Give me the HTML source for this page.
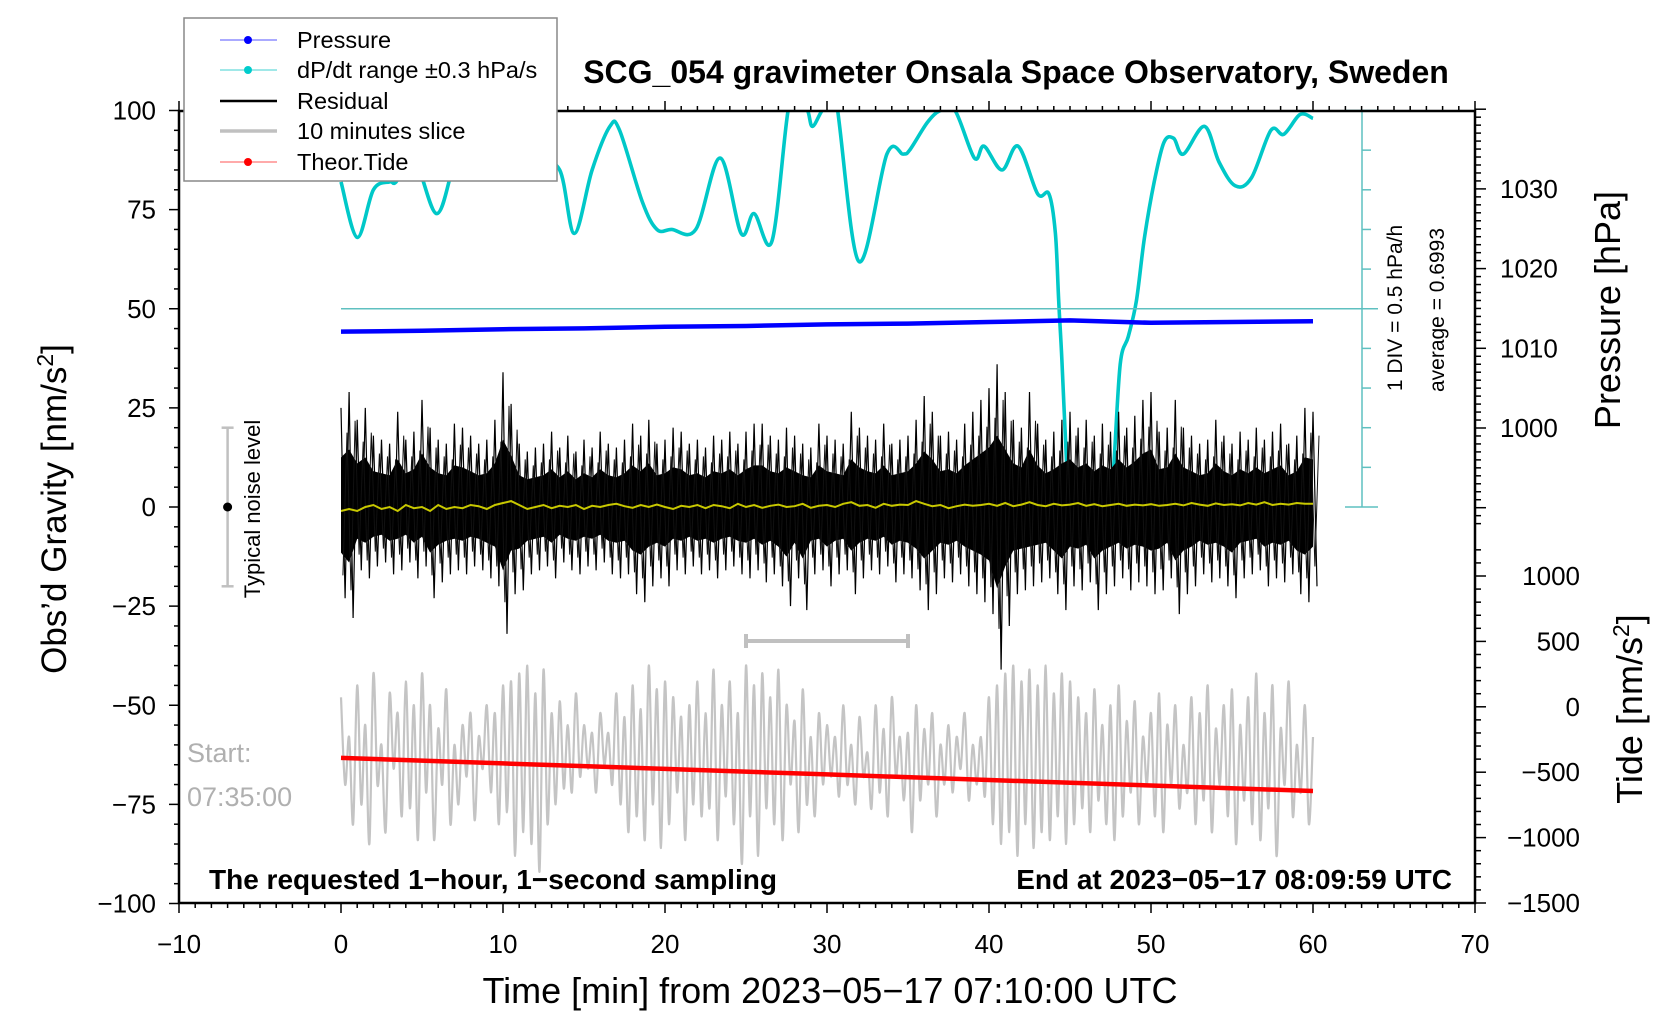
<!DOCTYPE html>
<html><head><meta charset="utf-8"><style>
html,body{margin:0;padding:0;background:#fff;}
svg{display:block;font-family:"Liberation Sans",Arial,sans-serif;}
</style></head><body>
<svg id="chart" width="1676" height="1020" viewBox="0 0 1676 1020" xmlns="http://www.w3.org/2000/svg">
<defs>
<clipPath id="plotclip"><rect x="179" y="111" width="1296" height="792"/></clipPath>
<clipPath id="cyanclip"><rect x="179" y="111" width="1296" height="396"/></clipPath>
</defs>
<g id="marks"></g>
<g id="axes"></g>
<text x="1016" y="83" text-anchor="middle" font-size="32" font-weight="bold">SCG_054 gravimeter Onsala Space Observatory, Sweden</text>
<text transform="translate(66,509) rotate(-90)" text-anchor="middle" font-size="35">Obs’d Gravity [nm/s<tspan font-size="23" dy="-13">2</tspan><tspan dy="13">]</tspan></text>
<text x="830" y="1003" text-anchor="middle" font-size="36">Time [min] from 2023−05−17 07:10:00 UTC</text>
<text transform="translate(1620,310) rotate(-90)" text-anchor="middle" font-size="36">Pressure [hPa]</text>
<text transform="translate(1642,709) rotate(-90)" text-anchor="middle" font-size="36">Tide [nm/s<tspan font-size="23" dy="-13">2</tspan><tspan dy="13">]</tspan></text>
<text transform="translate(1402,308) rotate(-90)" text-anchor="middle" font-size="21">1 DIV = 0.5 hPa/h</text>
<text transform="translate(1444,310) rotate(-90)" text-anchor="middle" font-size="21">average = 0.6993</text>
<text transform="translate(260,509) rotate(-90)" text-anchor="middle" font-size="22">Typical noise level</text>
<text x="187" y="762" font-size="27" fill="#b0b0b0">Start:</text>
<text x="187" y="806" font-size="27" fill="#b0b0b0">07:35:00</text>
<text x="209" y="889" font-size="28" font-weight="bold">The requested 1−hour, 1−second sampling</text>
<text x="1452" y="889" text-anchor="end" font-size="28" font-weight="bold">End at 2023−05−17 08:09:59 UTC</text>
<g>
<rect x="184" y="18" width="373" height="163" fill="#fff" stroke="#888" stroke-width="1.5"/>
<g><line x1="220" y1="40" x2="277" y2="40" stroke="#5555ff" stroke-width="1"/><circle cx="248" cy="40" r="4" fill="#0000ff"/><text x="297" y="48" font-size="23.5">Pressure</text></g>
<g><line x1="220" y1="70" x2="277" y2="70" stroke="#40d0d0" stroke-width="1"/><circle cx="248" cy="70" r="4" fill="#00cccc"/><text x="297" y="78" font-size="23.5">dP/dt range ±0.3 hPa/s</text></g>
<g><line x1="220" y1="101" x2="277" y2="101" stroke="#000" stroke-width="2.5"/><text x="297" y="109" font-size="23.5">Residual</text></g>
<g><line x1="220" y1="131" x2="277" y2="131" stroke="#c0c0c0" stroke-width="3.5"/><text x="297" y="139" font-size="23.5">10 minutes slice</text></g>
<g><line x1="220" y1="162" x2="277" y2="162" stroke="#ff5555" stroke-width="1"/><circle cx="248" cy="162" r="4" fill="#ff0000"/><text x="297" y="170" font-size="23.5">Theor.Tide</text></g>
</g>
</svg>
<script>
const resHi=[25,29,22,25,18,17,16,24,17,19, 27,20,17,16,21,20,18,16,17,22, 34,26,16,14,15,16,19,15,18,14, 17,15,19,16,15,17,21,18,22,16, 17,20,19,16,17,15,18,17,19,16, 19,21,21,18,17,20,18,16,15,21, 18,17,16,24,20,18,17,21,16,17, 18,22,28,24,18,19,17,21,24,27, 30,36,29,22,20,29,21,17,19,22, 24,20,22,18,21,19,24,20,23,27, 29,19,20,27,20,18,16,17,22,18, 16,19,17,20,17,19,21,16,18,25, 24];
const resLo=[-23,-28,-16,-18,-15,-14,-17,-16,-14,-18, -15,-23,-19,-17,-16,-17,-15,-16,-18,-20, -32,-22,-21,-17,-16,-15,-18,-14,-16,-17, -15,-16,-14,-17,-18,-17,-22,-24,-20,-18, -20,-16,-17,-15,-17,-16,-18,-16,-15,-17, -18,-16,-19,-17,-20,-25,-18,-26,-17,-16, -20,-17,-16,-22,-18,-16,-17,-15,-19,-17, -18,-21,-26,-22,-18,-19,-17,-20,-22,-24, -27,-41,-30,-22,-21,-20,-19,-18,-22,-26, -20,-21,-19,-26,-22,-20,-18,-21,-19,-20, -22,-21,-18,-27,-22,-20,-17,-19,-18,-20, -23,-18,-17,-16,-20,-18,-19,-17,-22,-24, -20];
const smooth=[-1,-0.5,-1,0,0.5,-0.5,0,-1,0.5,-0.3, 0,-1,0.5,-0.5,0,-0.3,0.5,0.2,-0.5,0.5, 1,1.5,0.5,-0.5,0,0.5,-0.3,0.3,0,0.5, -0.5,0.3,0,0.5,0.8,0.2,-0.2,0.5,0,0.6, 0,-0.5,0.3,0,0.5,-0.3,0.5,0.2,-0.3,0.8, 0,0.5,-0.2,0.3,0.6,0,0.2,0.8,-0.2,0.3, 0.5,0,0.8,1.2,0.3,0.5,-0.2,0.8,0.3,0.6, 0.5,1.5,0.8,0.2,0.5,-0.3,0.2,0.6,0.3,0.5, 0.8,0.3,1.0,0.2,0.6,1.2,0.5,0.2,0.8,0.4, 0.6,1.0,0.3,0.7,0.2,0.5,0.8,0.3,0.6,0.4, 0.7,0.3,0.5,0.8,0.4,1.0,0.6,0.3,0.9,0.5, 0.7,0.4,1.0,0.6,1.2,0.5,0.8,0.6,1.0,0.8, 0.8];
const slice=[-48,-70,-58,-80,-45,-75,-55,-85,-42,-70, -60,-82,-47,-66,-52,-78,-44,-76,-50,-84, -42,-72,-50,-84,-56,-70,-46,-80,-60,-75, -55,-68,-52,-79,-58,-66,-50,-72,-52,-80, -45,-77,-44,-88,-42,-82,-40,-85,-47,-92, -41,-80,-52,-75,-49,-71,-55,-72,-47,-68, -55,-66,-57,-72,-52,-65,-57,-70,-47,-75, -53,-82,-45,-78,-51,-84,-40,-75,-46,-86, -44,-80,-48,-72,-53,-84,-50,-75,-44,-78, -52,-76,-41,-84,-50,-73,-44,-80,-52,-90, -40,-78,-45,-88,-42,-76,-48,-80,-41,-84, -50,-70,-54,-82,-46,-75,-58,-78,-52,-70, -55,-68,-58,-73,-50,-70,-60,-75,-53,-68, -62,-76,-50,-72,-56,-78,-48,-68,-58,-74, -57,-82,-50,-74,-56,-70,-52,-78,-60,-70, -55,-72,-58,-66,-52,-74,-60,-70,-58,-73, -48,-80,-45,-85,-42,-82,-40,-88,-44,-80, -41,-86,-45,-82,-40,-84,-47,-78,-42,-85, -44,-80,-48,-76,-52,-82,-46,-74,-55,-80, -50,-84,-45,-78,-54,-72,-49,-80,-58,-70, -52,-78,-47,-82,-55,-70,-50,-76,-60,-72, -48,-80,-52,-74,-45,-82,-56,-70,-50,-78, -46,-85,-55,-74,-48,-80,-42,-84,-52,-76, -45,-88,-56,-70,-44,-78,-60,-72,-50,-80, -58];
const dpdtTime=[0,1,2,3,3.4,4.5,5.9,7,8,9,10,11,12,13.5,14.4,15.5,16.6,17.2,18.6,19.5,20.4,21.9,23.4,24.7,25.5,26.6,27.6,28.2,28.8,29.1,29.7,30.5,31.95,33.7,34.7,35.1,36.2,37,37.9,39.1,39.7,40.8,41.8,43,43.7,44.1,44.3,44.5,44.8,45,47.5,47.7,48.1,48.6,49.1,49.6,50.2,50.8,51.4,52,53.3,54.2,55.2,56.2,57.4,58.2,59.2,60];
const dpdtValue=[82,68,80,82,82,88,74,87,98,100,95,92,88,85,69,85,96,95,77,70,70,70,88,69,74,67,100,104,100,96,100,104,62,89,89,90,97,100,100,88,91,85,91,79,79,69,52,37,10,0,0,10,36,43,52,68,82,92,93,89,96,87,81,83,95,94,99,98];
const pressureTime=[0,5,10,15,20,25,30,35,40,45,50,55,60];
const pressureValue=[1012.1,1012.2,1012.4,1012.5,1012.7,1012.8,1013.0,1013.1,1013.3,1013.5,1013.2,1013.3,1013.4];
const tideTime=[0,10,20,30,40,50,60];
const tideValue=[-391,-433,-475,-517,-560,-602,-644];
const dpdtAverage=50;
const xTicks=[-10,0,10,20,30,40,50,60,70];
const yTicks=[-100,-75,-50,-25,0,25,50,75,100];
const pTicks=[1000,1010,1020,1030];
const tTicks=[-1500,-1000,-500,0,500,1000];

const X=t=>341+t*16.2;
const Y=g=>507-g*3.965;
const P=p=>428-(p-1000)*7.97;
const T=v=>903-(v+1500)*0.1308;
const NS='http://www.w3.org/2000/svg';
const marks=document.getElementById('marks');
const axes=document.getElementById('axes');
function mk(tag,attrs,parent){const e=document.createElementNS(NS,tag);for(const k in attrs)e.setAttribute(k,attrs[k]);(parent||marks).appendChild(e);return e;}
function spline(p){let d='M'+p[0][0].toFixed(1)+','+p[0][1].toFixed(1);
 for(let i=0;i<p.length-1;i++){const p0=p[i-1]||p[i],p1=p[i],p2=p[i+1],p3=p[i+2]||p2;
  const c1=[p1[0]+(p2[0]-p0[0])/6,p1[1]+(p2[1]-p0[1])/6],c2=[p2[0]-(p3[0]-p1[0])/6,p2[1]-(p3[1]-p1[1])/6];
  d+=' C'+c1[0].toFixed(1)+','+c1[1].toFixed(1)+' '+c2[0].toFixed(1)+','+c2[1].toFixed(1)+' '+p2[0].toFixed(1)+','+p2[1].toFixed(1);}
 return d;}

// dP/dt cyan (drawn beneath residual)
const gc=mk('g',{'clip-path':'url(#cyanclip)'});
const cl=mk('path',{d:spline(dpdtTime.map((t,i)=>[X(t),Y(dpdtValue[i])])),fill:'none',stroke:'#00c8c8','stroke-width':3.6,'stroke-linejoin':'round'},gc);



const gs=mk('g',{'clip-path':'url(#plotclip)'});
// slice (gray)
const slp=mk('path',{d:spline(slice.map((v,i)=>[X(i*0.25),Y(v)])),fill:'none',stroke:'#c4c4c4','stroke-width':2.2},gs);



// tide
let pts=tideTime.map((t,i)=>X(t).toFixed(1)+','+T(tideValue[i]).toFixed(1)).join(' ');
const tl=mk('polyline',{points:pts,fill:'none',stroke:'#ff0000','stroke-width':4.5},gs);



// residual core band
const core=[];
resHi.forEach((v,i)=>core.push(X(i*0.5).toFixed(1)+','+Y(v*0.5).toFixed(1)));
for(let i=resLo.length-1;i>=0;i--)core.push(X(i*0.5).toFixed(1)+','+Y(resLo[i]*0.5).toFixed(1));
const band=mk('polygon',{points:core.join(' '),fill:'#000'},gs);


const zz=[];
resHi.forEach((v,i)=>{zz.push(X(i*0.5).toFixed(1)+','+Y(v).toFixed(1));zz.push(X(i*0.5+0.25).toFixed(1)+','+Y(resLo[i]).toFixed(1));});
const rl=mk('polyline',{points:zz.join(' '),fill:'none',stroke:'#000','stroke-width':1.2},gs);


const zz2=[];
resLo.forEach((v,i)=>{zz2.push(X(i*0.5+0.12).toFixed(1)+','+Y(v*0.75).toFixed(1));zz2.push(X(i*0.5+0.37).toFixed(1)+','+Y(resHi[i]*0.75).toFixed(1));});
const rl2=mk('polyline',{points:zz2.join(' '),fill:'none',stroke:'#111','stroke-width':1},gs);


pts=smooth.map((v,i)=>X(i*0.5).toFixed(1)+','+Y(v).toFixed(1)).join(' ');
const yl=mk('polyline',{points:pts,fill:'none',stroke:'#c8c800','stroke-width':2},gs);



// average line and dpdt axis
const av=mk('line',{x1:X(0),x2:1378,y1:Y(dpdtAverage),y2:Y(dpdtAverage),stroke:'#5fc0c0','stroke-width':1.5});


const da=mk('g',{stroke:'#5fc0c0','stroke-width':1.5});


mk('line',{x1:1362,x2:1362,y1:Y(0),y2:Y(100)},da);
mk('line',{x1:1345,x2:1378,y1:Y(0),y2:Y(0)},da);
mk('line',{x1:1345,x2:1378,y1:Y(100),y2:Y(100)},da);
for(let g=10;g<100;g+=10)mk('line',{x1:1362,x2:1371,y1:Y(g),y2:Y(g)},da);

// pressure
pts=pressureTime.map((t,i)=>X(t).toFixed(1)+','+P(pressureValue[i]).toFixed(1)).join(' ');
const pl=mk('polyline',{points:pts,fill:'none',stroke:'#0000ff','stroke-width':4.5},gs);



// noise indicator
const ni=mk('g',{stroke:'#c0c0c0','stroke-width':2.5});


mk('line',{x1:X(-7),x2:X(-7),y1:Y(20),y2:Y(-20)},ni);
mk('line',{x1:X(-7)-6,x2:X(-7)+6,y1:Y(20),y2:Y(20)},ni);
mk('line',{x1:X(-7)-6,x2:X(-7)+6,y1:Y(-20),y2:Y(-20)},ni);
mk('circle',{cx:X(-7),cy:Y(0),r:4.5,fill:'#000',stroke:'none'},ni);
const sb=mk('g',{stroke:'#c0c0c0','stroke-width':4});


mk('line',{x1:X(25),x2:X(35),y1:Y(-33.8),y2:Y(-33.8)},sb);
mk('line',{x1:X(25),x2:X(25),y1:Y(-33.8)-7,y2:Y(-33.8)+7},sb);
mk('line',{x1:X(35),x2:X(35),y1:Y(-33.8)-7,y2:Y(-33.8)+7},sb);

// axes
const frame=mk('rect',{x:179,y:111,width:1296,height:792,fill:'none',stroke:'#000','stroke-width':2.5},axes);


const tk=mk('g',{stroke:'#000','stroke-width':1.5},axes);


for(let t=-10;t<=70;t++){const major=t%10===0;const L=major?10:5;
 mk('line',{x1:X(t),x2:X(t),y1:903,y2:903+L},tk);
 mk('line',{x1:X(t),x2:X(t),y1:111,y2:111-L},tk);}
for(let g=-100;g<=100;g+=5){const L=g%25===0?10:5;mk('line',{x1:179,x2:179-L,y1:Y(g),y2:Y(g)},tk);}
for(let p=988;p<=1040;p++){const L=p%10===0?11:6;mk('line',{x1:1475,x2:1475+L,y1:P(p),y2:P(p)},tk);}
for(let v=-1500;v<=1200;v+=100){const L=v%500===0?11:6;mk('line',{x1:1475,x2:1475+L,y1:T(v),y2:T(v)},tk);}
const fmt=v=>v<0?'−'+Math.abs(v):String(v);
xTicks.forEach(t=>{const e=mk('text',{x:X(t),y:953,'text-anchor':'middle','font-size':26},axes);e.textContent=fmt(t);
 
 });
yTicks.forEach(g=>{const e=mk('text',{x:156,y:Y(g)+9,'text-anchor':'end','font-size':26},axes);e.textContent=fmt(g);
 
 });
pTicks.forEach(p=>{const e=mk('text',{x:1500,y:P(p)+9,'font-size':26},axes);e.textContent=fmt(p);
 
 });
tTicks.forEach(v=>{const e=mk('text',{x:1580,y:T(v)+9,'text-anchor':'end','font-size':26},axes);e.textContent=fmt(v);
 
 });
</script>
</body></html>
